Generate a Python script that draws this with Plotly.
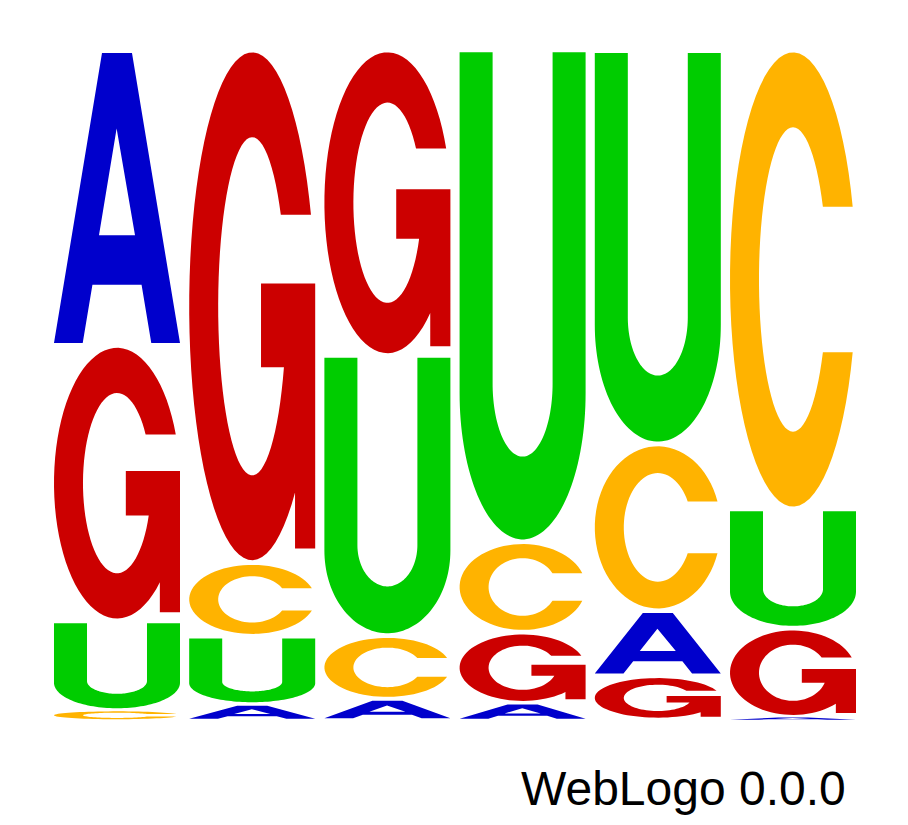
import numpy as np
import plotly.graph_objects as go

# sequence positions and letter probabilities (each column sums to ~1)
positions = [1, 2, 3, 4, 5, 6]
prob_A = [0.440, 0.023, 0.031, 0.025, 0.097, 0.004]
prob_C = [0.014, 0.110, 0.095, 0.135, 0.249, 0.685]
prob_G = [0.411, 0.765, 0.456, 0.106, 0.066, 0.133]
prob_U = [0.134, 0.102, 0.418, 0.734, 0.587, 0.178]

letters = ["A", "C", "G", "U"]
probs = {"A": prob_A, "C": prob_C, "G": prob_G, "U": prob_U}
colours = {"A": "#0000CC", "C": "#FFB300", "G": "#CC0000", "U": "#00CC00"}

LETTER_WIDTH = 0.932  # fraction of a column


def arc(cx, cy, rx, ry, a0, a1, n=70):
    t = np.radians(np.linspace(a0, a1, n))
    return list(zip(cx + rx * np.cos(t), cy + ry * np.sin(t)))


def glyph(letter):
    # letter outline in a unit box (u across, v up), list of sub paths
    if letter == "A":
        outer = [(0, 0), (0.228, 0), (0.305, 0.201), (0.695, 0.201), (0.772, 0),
                 (1, 0), (0.619, 1), (0.381, 1)]
        hole = [(0.357, 0.372), (0.497, 0.74), (0.643, 0.372)]
        return [outer, hole]
    if letter == "U":
        pts = [(0, 1)] + arc(0.5, 0.3, 0.5, 0.3, 180, 360) + [(1, 1), (0.738, 1)]
        pts += arc(0.5, 0.32, 0.238, 0.15, 0, -180) + [(0.262, 1)]
        return [pts]
    if letter == "C":
        a_out = np.degrees(np.arcsin(0.16 / 0.5))
        a_in = np.degrees(np.arcsin(0.16 / 0.335))
        pts = arc(0.5, 0.5, 0.5, 0.5, a_out, 360 - a_out)
        pts += arc(0.5, 0.5, 0.27, 0.335, 360 - a_in, a_in)
        return [pts]
    if letter == "G":
        a_top = np.degrees(np.arcsin(0.18 / 0.5))
        a_low = 360 - np.degrees(np.arccos(0.68))
        a_bar = -np.degrees(np.arcsin(0.12 / 0.333))
        a_term = -360 + np.degrees(np.arcsin(0.18 / 0.333))
        pts = arc(0.5, 0.5, 0.5, 0.5, a_top, a_low)
        pts += [(0.84, 0.023), (1, 0.023), (1, 0.545), (0.57, 0.545), (0.57, 0.38)]
        pts += arc(0.5, 0.5, 0.27, 0.333, a_bar, a_term)
        return [pts]
    return []


def glyph_path(letter, x_left, width, y_bottom, height):
    parts = []
    for sub in glyph(letter):
        coords = ["{:.5f},{:.5f}".format(x_left + u * width, y_bottom + v * height) for u, v in sub]
        parts.append("M " + " L ".join(coords) + " Z")
    return " ".join(parts)


fig = go.Figure()

# stack the letters of each column, smallest at the bottom
for i, pos in enumerate(positions):
    column = sorted(letters, key=lambda l: probs[l][i])
    y = 0.0
    for letter in column:
        p = probs[letter][i]
        pad = min(0.0035, p * 0.08)
        fig.add_shape(
            type="path",
            path=glyph_path(letter, pos - LETTER_WIDTH / 2, LETTER_WIDTH, y + pad, p - 2 * pad),
            xref="x", yref="y",
            fillcolor=colours[letter],
            line=dict(width=0),
            layer="above",
        )
        y += p

# page body has an 8px margin, so positions below are shifted by that
fig.add_annotation(
    text="WebLogo 0.0.0",
    xref="paper", yref="paper",
    x=840 / 908, y=1 - 780.5 / 825,
    xanchor="right", yanchor="middle",
    showarrow=False,
    font=dict(family="Liberation Sans, Arial, sans-serif", size=48, color="black"),
)

fig.update_layout(
    width=908,
    height=825,
    margin=dict(l=0, r=0, t=0, b=0),
    paper_bgcolor="white",
    plot_bgcolor="white",
    showlegend=False,
    xaxis=dict(range=[0.1938, 6.9098], visible=False, fixedrange=True),
    yaxis=dict(range=[-0.1687, 1.0627], visible=False, fixedrange=True),
)

fig.write_html("out.html")
